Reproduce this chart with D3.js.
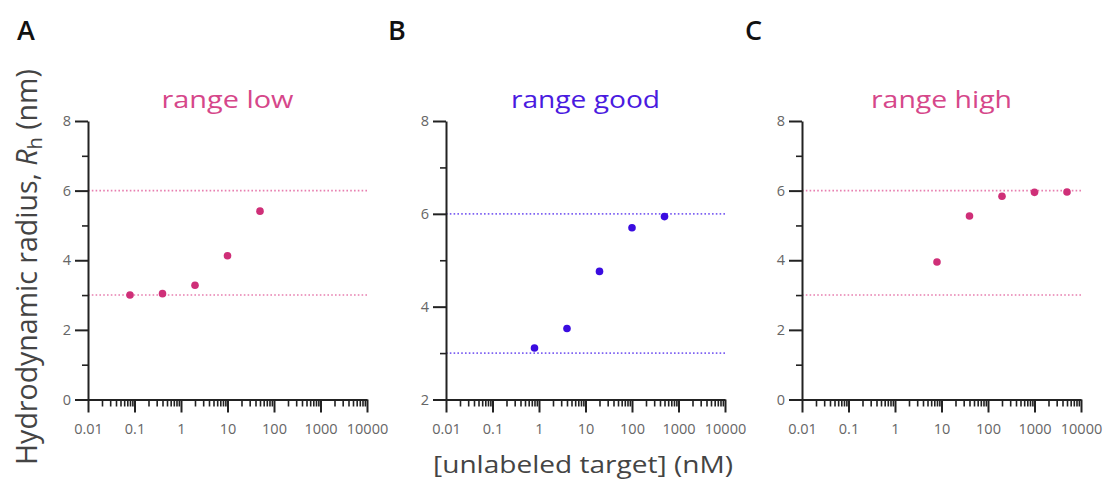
<!DOCTYPE html>
<meta charset="utf-8">
<style>
    body { margin: 0; background: #fff; }
    text { font-family: "Open Sans", sans-serif; }
    .axis path, .axis line { stroke: #222; stroke-width: 2px; }
    .axis text { fill: #666; font-size: 14.5px; }
    .minor path { display: none; }
    .minor line { stroke-width: 1.6px; }
</style>
<script src="https://cdn.jsdelivr.net/npm/d3@7"></script>
<div id="chart"></div>
<script>
    // data
    var letters = ["A", "B", "C"];
    var titles = ["range low", "range good", "range high"];
    var concA = [0.08, 0.4, 2, 10, 50];
    var rhA = [3.0, 3.04, 3.28, 4.13, 5.41];
    var concB = [0.8, 4, 20, 100, 500];
    var rhB = [3.11, 3.53, 4.76, 5.70, 5.94];
    var concC = [8, 40, 200, 1000, 5000];
    var rhC = [3.95, 5.27, 5.84, 5.95, 5.96];
    var yDomains = [[0, 8], [2, 8], [0, 8]];
    var refLines = [3, 6];
    var xTicks = [0.01, 0.1, 1, 10, 100, 1000, 10000];

    var width = 1105, height = 484;
    var plotW = 279, plotTop = 121, plotBottom = 399.5;
    var lefts = [88, 446, 802];

    // colours per panel: point, title, dotted line
    var pink = {pt: "#cf2f78", title: "#d6478a", dot: "#e77fb0"};
    var purple = {pt: "#3a0ce0", title: "#4a1ae0", dot: "#7e62f2"};
    var panels = [
        {x: concA, y: rhA, c: pink},
        {x: concB, y: rhB, c: purple},
        {x: concC, y: rhC, c: pink}
    ];

    var svg = d3.select("#chart").append("svg")
        .attr("width", width).attr("height", height);

    // minor log ticks 2..9 per decade
    var minorX = [];
    for (var d = -2; d < 4; d++) {
        for (var m = 2; m <= 9; m++) minorX.push(m * Math.pow(10, d));
    }

    panels.forEach(function(p, i) {
        var x0 = lefts[i];
        var x = d3.scaleLog().domain([0.01, 10000]).range([x0, x0 + plotW]);
        var y = d3.scaleLinear().domain(yDomains[i]).range([plotBottom, plotTop]);

        var yMajor = d3.range(yDomains[i][0], yDomains[i][1] + 1, 2);
        var yMinor = d3.range(yDomains[i][0] + 1, yDomains[i][1], 2);

        // dotted reference lines
        svg.selectAll(null).data(refLines).enter().append("line")
            .attr("x1", x0).attr("x2", x0 + plotW)
            .attr("y1", function(v) { return y(v); })
            .attr("y2", function(v) { return y(v); })
            .attr("stroke", p.c.dot).attr("stroke-width", 1.6)
            .attr("stroke-dasharray", "1.6,2.2");

        // axes
        svg.append("g").attr("class", "axis minor")
            .attr("transform", "translate(0," + plotBottom + ")")
            .call(d3.axisBottom(x).tickValues(minorX).tickSize(7).tickFormat(""));
        svg.append("g").attr("class", "axis")
            .attr("transform", "translate(0," + plotBottom + ")")
            .call(d3.axisBottom(x).tickValues(xTicks).tickSize(13).tickSizeOuter(0)
                .tickPadding(11).tickFormat(d3.format("~g")));
        svg.append("g").attr("class", "axis minor")
            .attr("transform", "translate(" + x0 + ",0)")
            .call(d3.axisLeft(y).tickValues(yMinor).tickSize(6).tickFormat(""));
        svg.append("g").attr("class", "axis")
            .attr("transform", "translate(" + x0 + ",0)")
            .call(d3.axisLeft(y).tickValues(yMajor).tickSize(13).tickSizeOuter(0)
                .tickPadding(4).tickFormat(d3.format("d")));

        // points
        svg.selectAll(null).data(p.x).enter().append("circle")
            .attr("cx", function(v) { return x(v); })
            .attr("cy", function(v, j) { return y(p.y[j]); })
            .attr("r", 3.8)
            .attr("fill", p.c.pt);

        // panel title
        var tw = [132, 149, 141][i];
        svg.append("text")
            .attr("x", x0 + plotW / 2).attr("y", 108)
            .attr("text-anchor", "middle")
            .attr("font-size", "23px")
            .attr("fill", p.c.title)
            .attr("textLength", tw).attr("lengthAdjust", "spacingAndGlyphs")
            .text(titles[i]);

        // panel letter
        svg.append("text")
            .attr("x", [17, 388, 745][i]).attr("y", 40)
            .attr("font-size", "27px").attr("font-weight", 600)
            .attr("fill", "#111")
            .text(letters[i]);
    });

    // y axis title
    var yt = svg.append("text")
        .attr("transform", "translate(37,267) rotate(-90)")
        .attr("text-anchor", "middle")
        .attr("font-size", "28.5px").attr("fill", "#444");
    yt.append("tspan").text("Hydrodynamic radius, ");
    yt.append("tspan").attr("font-style", "italic").text("R");
    yt.append("tspan").attr("font-size", "20px").attr("dy", 5).text("h");
    yt.append("tspan").attr("dy", -5).text(" (nm)");

    // x axis title
    svg.append("text")
        .attr("x", 583).attr("y", 473)
        .attr("text-anchor", "middle")
        .attr("font-size", "24px").attr("fill", "#444")
        .attr("textLength", 300).attr("lengthAdjust", "spacingAndGlyphs")
        .text("[unlabeled target] (nM)");
</script>
